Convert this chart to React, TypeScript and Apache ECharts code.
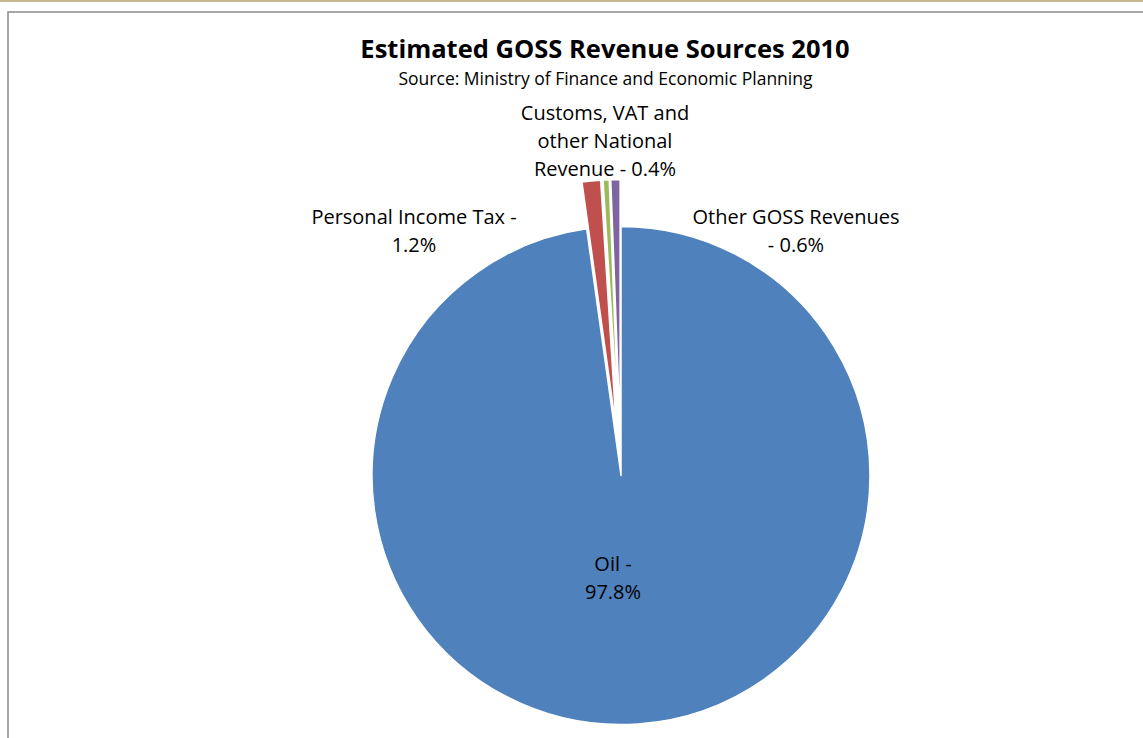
import React, { useEffect, useRef } from "react";
import * as echarts from "echarts";

const categories = [
  "Oil",
  "Personal Income Tax",
  "Customs, VAT and other National Revenue",
  "Other GOSS Revenues",
];
const values = [97.8, 1.2, 0.4, 0.6];
const exploded = [false, true, true, true];
const labelTemplates = [
  "Oil -\n{p}",
  "Personal Income Tax -\n{p}",
  "Customs, VAT and\nother National\nRevenue - {p}",
  "Other GOSS Revenues\n- {p}",
];
const colors = ["#4F81BD", "#C0504D", "#9BBB59", "#8064A2"];
const labelPositions = [
  [613, 577],
  [414, 230],
  [605, 140],
  [796, 230],
];

const titleText = "Estimated GOSS Revenue Sources 2010";
const subtitleText = "Source: Ministry of Finance and Economic Planning";
const FONT = "'Open Sans', sans-serif";

export default function App() {
  const ref = useRef<HTMLDivElement>(null);
  useEffect(() => {
    if (!ref.current) return;
    const chart = echarts.init(ref.current, undefined, { renderer: "svg" });
    const common = {
      type: "pie",
      center: [621, 475.5],
      radius: 249,
      startAngle: 90,
      clockwise: true,
      percentPrecision: 1,
      avoidLabelOverlap: false,
      emphasis: { disabled: true },
    };
    chart.setOption({
      animation: false,
      backgroundColor: "#ffffff",
      textStyle: { fontFamily: FONT },
      graphic: [
        {
          type: "rect",
          shape: { x: 0, y: 0, width: 1143, height: 2 },
          style: { fill: "#c8b88c" },
          silent: true,
        },
        {
          type: "rect",
          shape: { x: 8, y: 12, width: 1300, height: 900 },
          style: { fill: "none", stroke: "#8a8a8a", lineWidth: 1.5 },
          silent: true,
        },
        {
          type: "text",
          x: 605,
          y: 48,
          style: {
            text: titleText,
            fontFamily: FONT,
            fontWeight: "bold",
            fontSize: 25.5,
            fill: "#000",
            align: "center",
            verticalAlign: "middle",
          },
        },
        {
          type: "text",
          x: 605.5,
          y: 78,
          style: {
            text: subtitleText,
            fontFamily: FONT,
            fontSize: 17.5,
            fill: "#000",
            align: "center",
            verticalAlign: "middle",
          },
        },
      ],
      series: [
        {
          ...common,
          selectedMode: "multiple",
          selectedOffset: 47,
          itemStyle: { borderColor: "#ffffff", borderWidth: 1.5 },
          label: { show: false },
          labelLine: { show: false },
          data: categories.map((name, i) => ({
            name,
            value: values[i],
            selected: exploded[i],
            itemStyle: { color: colors[i] },
          })),
        },
        {
          ...common,
          silent: true,
          selectedMode: false,
          z: 5,
          itemStyle: { color: "rgba(0,0,0,0)", borderWidth: 0 },
          labelLine: { show: false },
          label: {
            show: true,
            position: "outside",
            fontFamily: FONT,
            fontSize: 20,
            lineHeight: 28,
            color: "#000",
            align: "center",
            formatter: (p: any) =>
              labelTemplates[p.dataIndex].replace("{p}", p.percent.toFixed(1) + "%"),
          },
          labelLayout: (params: any) => {
            const pos = labelPositions[params.dataIndex];
            return { x: pos[0], y: pos[1], align: "center", verticalAlign: "middle" };
          },
          data: categories.map((name, i) => ({ name, value: values[i] })),
        },
      ],
    });
    return () => chart.dispose();
  }, []);
  return (
    <div
      ref={ref}
      style={{ position: "fixed", left: 0, top: 0, width: 1143, height: 738 }}
    />
  );
}
